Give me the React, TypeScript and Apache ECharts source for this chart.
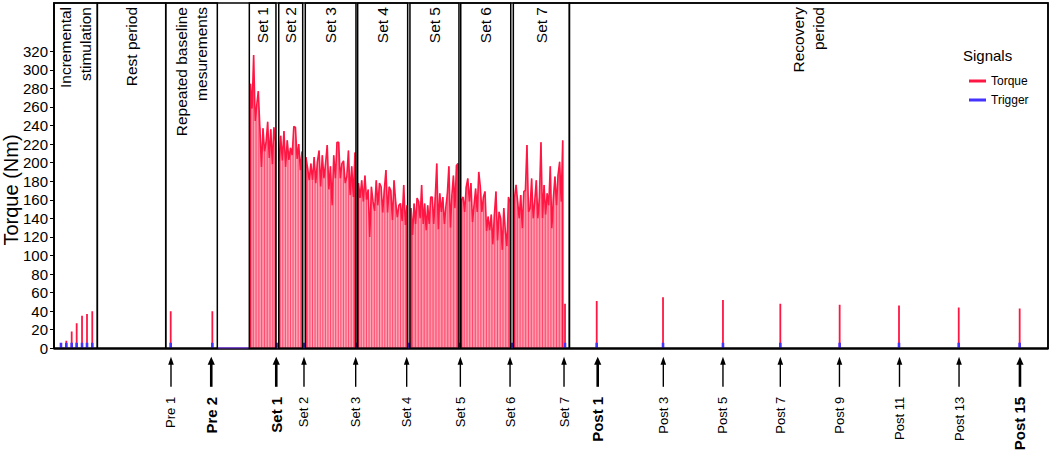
import React, { useEffect, useRef } from "react";
import * as echarts from "echarts";

const FONT = '"Liberation Sans", Arial, Helvetica, sans-serif';
const TORQUE_COLOR = "#ff1744";
const TRIGGER_COLOR = "#4433ff";

const X_MAX = 1000;
const Y_MAX = 372;
const yTickValues = [0, 20, 40, 60, 80, 100, 120, 140, 160, 180, 200, 220, 240, 260, 280, 300, 320];

// Protocol sections (boxes drawn in the plot)
const sectionLabels = [
  "Incremental\nstimulation",
  "Rest period",
  "Repeated baseline\nmesurements",
  "Set 1",
  "Set 2",
  "Set 3",
  "Set 4",
  "Set 5",
  "Set 6",
  "Set 7",
  "Recovery\nperiod",
];
const sectionStarts = [0, 43.6, 112.4, 196.5, 226.1, 252.8, 305.5, 358.1, 409.2, 462.1, 518.6];
const sectionEnds = [43.6, 112.4, 164.3, 223.3, 250.2, 303.8, 355.8, 407.4, 459.5, 518.4, 1000];

// Measurement events (arrows below the axis)
const eventLabels = [
  "Pre 1", "Pre 2", "Set 1", "Set 2", "Set 3", "Set 4", "Set 5", "Set 6", "Set 7",
  "Post 1", "Post 3", "Post 5", "Post 7", "Post 9", "Post 11", "Post 13", "Post 15",
];
const eventTimes = [
  117.7, 158.2, 223.6, 251.5, 303.5, 354.8, 408.8, 458.8, 513.1,
  547, 613, 673, 730.7, 790.2, 850.6, 910.5, 971.8,
];
const eventBold = [
  false, true, true, false, false, false, false, false, false,
  true, false, false, false, false, false, false, true,
];

// Isolated torque twitches
const incrementalTimes = [7.0, 12.4, 17.8, 22.8, 28.2, 33.2, 38.5];
const incrementalTorque = [5, 8, 18, 27, 35, 37, 40];
const preTimes = [117.4, 159.3];
const preTorque = [40, 40];
const set7EndTimes = [514.1];
const set7EndTorque = [48];
const postTimes = [546, 612.7, 673, 730.7, 790.4, 850.1, 910.2, 971.5];
const postTorque = [51, 55, 52, 48, 47, 46, 44, 43];

// Contraction sets (torque peaks, sampled across each set)
const setStartTimes = [197.7, 226.4, 253.5, 306.3, 359.2, 410.0, 463.3];
const setEndTimes = [222.8, 249.5, 302.8, 355.1, 406.4, 458.8, 511.8];
const set1Torque = [285, 258, 316, 245, 262, 277, 238, 195, 237, 212, 222, 244, 205, 236, 198, 238, 222];
const set2Torque = [200, 229, 202, 234, 195, 224, 203, 216, 208, 239, 238, 204, 220, 192, 212];
const set3Torque = [206, 194, 181, 199, 181, 206, 178, 201, 213, 174, 208, 183, 199, 219, 171, 196, 154, 208, 183, 222, 222, 183, 199, 202, 178, 185, 213, 165, 196, 163, 211];
const set4Torque = [178, 162, 181, 158, 186, 160, 171, 120, 174, 158, 148, 181, 154, 178, 174, 146, 171, 192, 146, 174, 170, 138, 181, 158, 141, 154, 156, 137, 176, 133, 154];
const set5Torque = [151, 122, 156, 134, 162, 158, 140, 176, 134, 156, 127, 154, 134, 163, 163, 134, 163, 199, 128, 167, 147, 163, 134, 152, 167, 196, 130, 165, 186, 151, 197, 199];
const set6Torque = [160, 163, 147, 174, 183, 158, 178, 136, 154, 172, 147, 190, 174, 147, 163, 169, 126, 142, 127, 144, 112, 144, 169, 116, 147, 140, 106, 151, 126, 110, 163, 158];
const set7Torque = [162, 176, 158, 140, 165, 129, 169, 170, 219, 147, 151, 183, 140, 158, 181, 140, 162, 222, 140, 176, 144, 167, 154, 196, 129, 162, 185, 154, 187, 201, 158, 224];
const setTorque = [set1Torque, set2Torque, set3Torque, set4Torque, set5Torque, set6Torque, set7Torque];

// Trigger pulses
const triggerTimes = [
  7.0, 12.4, 17.8, 22.8, 28.2, 33.2, 38.5,
  117.4, 159.3,
  224.1, 251.8, 304.5, 357.1, 408.5, 461.1, 514.1,
  546, 612.7, 673, 730.7, 790.4, 850.1, 910.2, 971.5,
];
const triggerValues = [
  6, 6, 6, 6, 6, 6, 6,
  6, 6,
  6, 6, 6, 6, 6, 6, 6,
  6, 6, 6, 6, 6, 6, 6, 6,
];
const triggerBaselineTimes = [165, 196.2];
const triggerBaselineValues = [0.5, 0.5];

type Pt = [number, number | string];

function buildOption() {
  const spikes: Pt[] = [];
  const addSpikes = (ts: number[], vs: number[]) => {
    ts.forEach((t, i) => {
      spikes.push([t, 0], [t, vs[i]], [t, "-"]);
    });
  };
  addSpikes(incrementalTimes, incrementalTorque);
  addSpikes(preTimes, preTorque);
  addSpikes(set7EndTimes, set7EndTorque);
  addSpikes(postTimes, postTorque);

  const envelope: Pt[] = [];
  const stripes: Pt[] = [];
  setTorque.forEach((vals, s) => {
    const start = setStartTimes[s];
    const end = setEndTimes[s];
    const step = (end - start) / (vals.length - 1);
    envelope.push([start, 0]);
    vals.forEach((v, i) => {
      const t = start + i * step;
      envelope.push([t, v]);
      stripes.push([t, 0], [t, v], [t, "-"]);
    });
    envelope.push([end, 0], [end, "-"]);
  });

  const trigger: Pt[] = [];
  triggerTimes.forEach((t, i) => {
    trigger.push([t, 0], [t, triggerValues[i]], [t, "-"]);
  });

  const triggerBase: Pt[] = triggerBaselineTimes.map((t, i) => [t, triggerBaselineValues[i]] as Pt);

  return {
    animation: false,
    textStyle: { fontFamily: FONT },
    grid: {
      left: 54,
      right: 4,
      top: 3,
      bottom: 104.7,
      show: true,
      borderColor: "#000",
      borderWidth: 1.5,
      backgroundColor: "transparent",
    },
    legend: {
      data: ["Torque", "Trigger"],
      orient: "vertical",
      left: 964,
      top: 70,
      icon: "rect",
      itemWidth: 17,
      itemHeight: 3,
      itemGap: 7,
      selectedMode: false,
      textStyle: { color: "#000", fontSize: 12, fontFamily: FONT },
    },
    xAxis: {
      type: "value",
      min: 0,
      max: X_MAX,
      axisLabel: { show: false },
      axisTick: { show: false },
      splitLine: { show: false },
      axisLine: { show: true, lineStyle: { color: "#000", width: 1.5 } },
    },
    yAxis: {
      type: "value",
      min: 0,
      max: Y_MAX,
      interval: 20,
      axisLine: { show: true, lineStyle: { color: "#000", width: 1.5 } },
      axisTick: { show: true, length: 4, lineStyle: { color: "#000" }, customValues: yTickValues },
      axisLabel: {
        customValues: yTickValues,
        formatter: (v: number) => (v <= 320 && v % 20 === 0 ? String(v) : ""),
        color: "#000",
        fontSize: 15,
        fontFamily: FONT,
        margin: 6,
      },
      splitLine: { show: false },
    },
    series: [
      {
        name: "Torque",
        type: "line",
        data: envelope,
        showSymbol: false,
        connectNulls: false,
        z: 2,
        itemStyle: { color: TORQUE_COLOR },
        lineStyle: { color: TORQUE_COLOR, width: 1.6 },
        areaStyle: { color: "rgba(255, 80, 115, 0.30)" },
      },
      {
        name: "Torque",
        type: "line",
        data: stripes,
        showSymbol: false,
        connectNulls: false,
        z: 2,
        itemStyle: { color: TORQUE_COLOR },
        lineStyle: { color: "rgba(255, 23, 68, 0.75)", width: 1 },
      },
      {
        name: "Torque",
        type: "line",
        data: spikes,
        showSymbol: false,
        connectNulls: false,
        z: 2,
        itemStyle: { color: TORQUE_COLOR },
        lineStyle: { color: TORQUE_COLOR, width: 1.8 },
      },
      {
        name: "Trigger",
        type: "line",
        data: trigger,
        showSymbol: false,
        connectNulls: false,
        z: 3,
        itemStyle: { color: TRIGGER_COLOR },
        lineStyle: { color: TRIGGER_COLOR, width: 2.6 },
      },
      {
        name: "Trigger baseline",
        type: "line",
        data: triggerBase,
        showSymbol: false,
        z: 3,
        itemStyle: { color: "#7a40e0" },
        lineStyle: { color: "#7a40e0", width: 1.2 },
      },
    ],
  };
}

export default function App() {
  const ref = useRef<HTMLDivElement>(null);

  useEffect(() => {
    if (!ref.current) return;
    const chart = echarts.init(ref.current, null, { renderer: "svg" });
    chart.setOption(buildOption() as any);

    const px = (t: number) => chart.convertToPixel({ xAxisIndex: 0 }, t) as number;
    const py = (v: number) => chart.convertToPixel({ yAxisIndex: 0 }, v) as number;
    const top = py(Y_MAX);
    const base = py(0);

    const graphics: any[] = [];

    sectionLabels.forEach((label, i) => {
      const x0 = px(sectionStarts[i]);
      const x1 = px(sectionEnds[i]);
      graphics.push({
        type: "rect",
        silent: true,
        z: 100,
        shape: { x: x0, y: top, width: x1 - x0, height: base - top },
        style: { fill: "none", stroke: "#000", lineWidth: 1.5 },
      });
      graphics.push({
        type: "text",
        silent: true,
        z: 101,
        x: (x0 + x1) / 2,
        y: top + 4,
        rotation: Math.PI / 2,
        style: {
          text: label,
          fill: "#000",
          fontSize: 15.5,
          fontFamily: FONT,
          align: "right",
          verticalAlign: "middle",
          lineHeight: 20.5,
        },
      });
    });

    eventLabels.forEach((label, i) => {
      const x = px(eventTimes[i]);
      const bold = eventBold[i];
      const hw = bold ? 3.6 : 2.8;
      graphics.push({
        type: "line",
        silent: true,
        z: 100,
        shape: { x1: x, y1: base + 38.5, x2: x, y2: base + 14 },
        style: { stroke: "#000", lineWidth: bold ? 2.6 : 1.4 },
      });
      graphics.push({
        type: "polygon",
        silent: true,
        z: 100,
        shape: {
          points: [
            [x, base + 8.5],
            [x - hw, base + 16.5],
            [x + hw, base + 16.5],
          ],
        },
        style: { fill: "#000" },
      });
      graphics.push({
        type: "text",
        silent: true,
        z: 101,
        x: x,
        y: base + 48.5,
        rotation: Math.PI / 2,
        style: {
          text: label,
          fill: "#000",
          fontSize: bold ? 15 : 13,
          fontWeight: bold ? "bold" : "normal",
          fontFamily: FONT,
          align: "right",
          verticalAlign: "middle",
        },
      });
    });

    graphics.push({
      type: "text",
      silent: true,
      z: 101,
      x: 10.5,
      y: 190,
      rotation: Math.PI / 2,
      style: {
        text: "Torque (Nm)",
        fill: "#000",
        fontSize: 20,
        fontFamily: FONT,
        align: "center",
        verticalAlign: "middle",
      },
    });

    graphics.push({
      type: "text",
      silent: true,
      z: 101,
      x: 963,
      y: 55,
      style: {
        text: "Signals",
        fill: "#000",
        fontSize: 15,
        fontFamily: FONT,
        align: "left",
        verticalAlign: "middle",
      },
    });

    chart.setOption({ graphic: graphics } as any);

    return () => chart.dispose();
  }, []);

  return (
    <div
      ref={ref}
      style={{ position: "fixed", left: 0, top: 0, width: 1052, height: 453, background: "#fff" }}
    />
  );
}
